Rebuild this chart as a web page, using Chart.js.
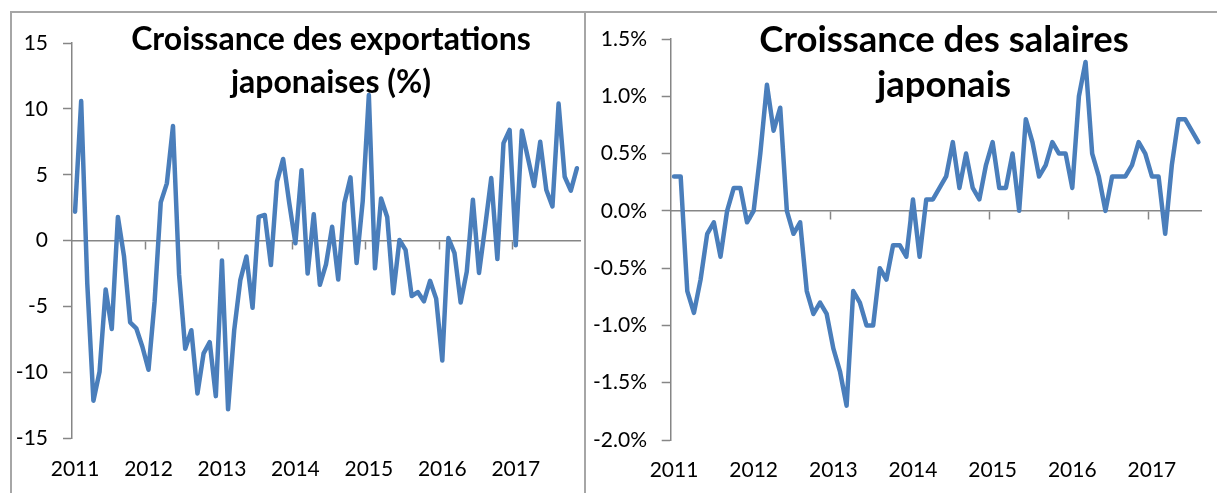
<!DOCTYPE html>
<html>
<head>
<meta charset="utf-8">
<script src="https://cdn.jsdelivr.net/npm/chart.js@4.4.1/dist/chart.umd.min.js"></script>
<style>
  html, body { margin: 0; padding: 0; background: #fff; }
  body { width: 1217px; height: 493px; position: relative; overflow: hidden; font-family: Lato, sans-serif; }
  .frame { position: absolute; left: 10px; top: 11px; width: 1400px; height: 600px; border-left: 2px solid #a6a6a6; border-top: 2px solid #a6a6a6; box-sizing: border-box; }
  .sep { position: absolute; left: 584px; top: 11px; width: 2px; height: 600px; background: #a6a6a6; }
  .cv { position: absolute; top: 0; }
  .title { position: absolute; font-weight: 700; color: #000; text-align: center; white-space: nowrap; z-index: 5; }
</style>
</head>
<body>
<div class="frame"></div>
<div class="sep"></div>
<div class="cv" style="left:0;width:584px;height:493px;"><canvas id="c1"></canvas></div>
<div class="cv" style="left:586px;width:631px;height:493px;"><canvas id="c2"></canvas></div>
<div class="title" id="t1" style="left:131px;width:400px;top:16px;font-size:32px;line-height:43px;">Croissance des exportations<br>japonaises (%)</div>
<div class="title" id="t2" style="left:744px;width:400px;top:16px;font-size:36.5px;line-height:45px;">Croissance des salaires<br>japonais</div>
<script>
// ---- Data ----
const years = ['2011', '2012', '2013', '2014', '2015', '2016', '2017'];

// Export growth (%), monthly Jan 2011 - Nov 2017
const exportGrowth = [
  2.2, 10.6, -3.3, -12.15, -9.95, -3.7, -6.7, 1.8, -1.2, -6.2, -6.65, -8.05,
  -9.8, -4.6, 2.9, 4.35, 8.7, -2.6, -8.2, -6.8, -11.6, -8.55, -7.7, -11.8,
  -1.5, -12.8, -6.8, -3.0, -1.2, -5.1, 1.8, 1.95, -1.85, 4.5, 6.2, 2.85,
  -0.2, 5.35, -2.5, 2.0, -3.35, -1.8, 1.05, -2.95, 2.85, 4.8, -1.7, 3.0,
  11.05, -2.1, 3.2, 1.8, -4.0, 0.05, -0.7, -4.2, -3.9, -4.6, -3.05, -4.4,
  -9.1, 0.2, -0.95, -4.7, -2.35, 3.1, -2.45, 1.05, 4.75, -1.4, 7.4, 8.4,
  -0.35, 8.35, 6.25, 4.15, 7.5, 3.85, 2.6, 10.4, 4.85, 3.8, 5.5
];

// Wage growth (%), monthly Jan 2011 - Aug 2017
const wageGrowth = [
  0.3, 0.3, -0.7, -0.89, -0.6, -0.2, -0.1, -0.4, 0.0, 0.2, 0.2, -0.1,
  0.0, 0.5, 1.1, 0.7, 0.9, 0.0, -0.2, -0.1, -0.7, -0.9, -0.8, -0.9,
  -1.2, -1.4, -1.7, -0.7, -0.8, -1.0, -1.0, -0.5, -0.6, -0.3, -0.3, -0.4,
  0.1, -0.4, 0.1, 0.1, 0.2, 0.3, 0.6, 0.2, 0.5, 0.2, 0.1, 0.4,
  0.6, 0.2, 0.2, 0.5, 0.0, 0.8, 0.6, 0.3, 0.4, 0.6, 0.5, 0.5,
  0.2, 1.0, 1.3, 0.5, 0.3, 0.0, 0.3, 0.3, 0.3, 0.4, 0.6, 0.5,
  0.3, 0.3, -0.2, 0.4, 0.8, 0.8, 0.7, 0.6
];

function monthLabels(n) {
  const out = [];
  for (let i = 0; i < n; i++) {
    out.push(years[Math.floor(i / 12)] + '-' + String(i % 12 + 1).padStart(2, '0'));
  }
  return out;
}
const exportMonths = monthLabels(exportGrowth.length);
const wageMonths = monthLabels(wageGrowth.length);

// ---- Styling ----
const LINE = '#4a7ebb';
const AXIS = '#868686';
const FONT = { family: 'Lato, sans-serif', size: 21 };

function makeChart(id, labels, values, cfg) {
  const n = labels.length;
  return new Chart(document.getElementById(id), {
    type: 'line',
    data: {
      labels: labels,
      datasets: [{
        data: values,
        borderColor: LINE,
        borderWidth: 4.5,
        pointRadius: 0,
        tension: 0,
        fill: false,
        borderJoinStyle: 'round',
        borderCapStyle: 'round',
        xAxisID: 'x',
        yAxisID: 'y'
      }]
    },
    options: {
      responsive: true,
      maintainAspectRatio: false,
      animation: false,
      layout: { padding: { left: 0, right: cfg.padRight, top: cfg.padTop, bottom: 0 } },
      plugins: { legend: { display: false }, title: { display: false }, tooltip: { enabled: false } },
      scales: {
        x: {
          type: 'category',
          offset: true,
          position: 'bottom',
          grid: { display: false, drawTicks: true, tickLength: cfg.xPad },
          border: { display: false },
          ticks: {
            autoSkip: false, maxRotation: 0, minRotation: 0,
            padding: 0, color: '#000', font: FONT,
            callback: (v, i) => (i % 12 === 0 ? years[i / 12] : '')
          },
          afterFit: s => { s.height = cfg.xHeight; }
        },
        x2: {
          type: 'category',
          labels: labels,
          offset: true,
          position: { y: 0 },
          grid: {
            offset: true, drawOnChartArea: false, drawTicks: true, tickLength: 8, tickWidth: 1.5,
            tickColor: ctx => (ctx.index % 12 === 0 && ctx.index > 0 && ctx.index < n) ? AXIS : 'rgba(0,0,0,0)'
          },
          border: { display: true, color: AXIS, width: 1.5 },
          ticks: { display: false }
        },
        y: {
          min: cfg.min, max: cfg.max,
          position: 'left',
          grid: { drawOnChartArea: false, drawTicks: true, tickLength: 9, tickColor: AXIS, tickWidth: 1.5 },
          border: { display: true, color: AXIS, width: 1.5 },
          ticks: { stepSize: cfg.step, padding: cfg.yPad, color: '#000', font: FONT, callback: cfg.fmt },
          afterFit: s => { s.width = cfg.yWidth; }
        }
      }
    }
  });
}

makeChart('c1', exportMonths, exportGrowth, {
  min: -15, max: 15, step: 5, yWidth: 72, padRight: 4, padTop: 43, xHeight: 54.7, xPad: 18, yPad: 15,
  fmt: v => String(v)
});
makeChart('c2', wageMonths, wageGrowth, {
  min: -2, max: 1.5, step: 0.5, yWidth: 84.7, padRight: 15.3, padTop: 39, xHeight: 53, xPad: 18, yPad: 14.7,
  fmt: v => v.toFixed(1) + '%'
});
</script>
</body>
</html>
